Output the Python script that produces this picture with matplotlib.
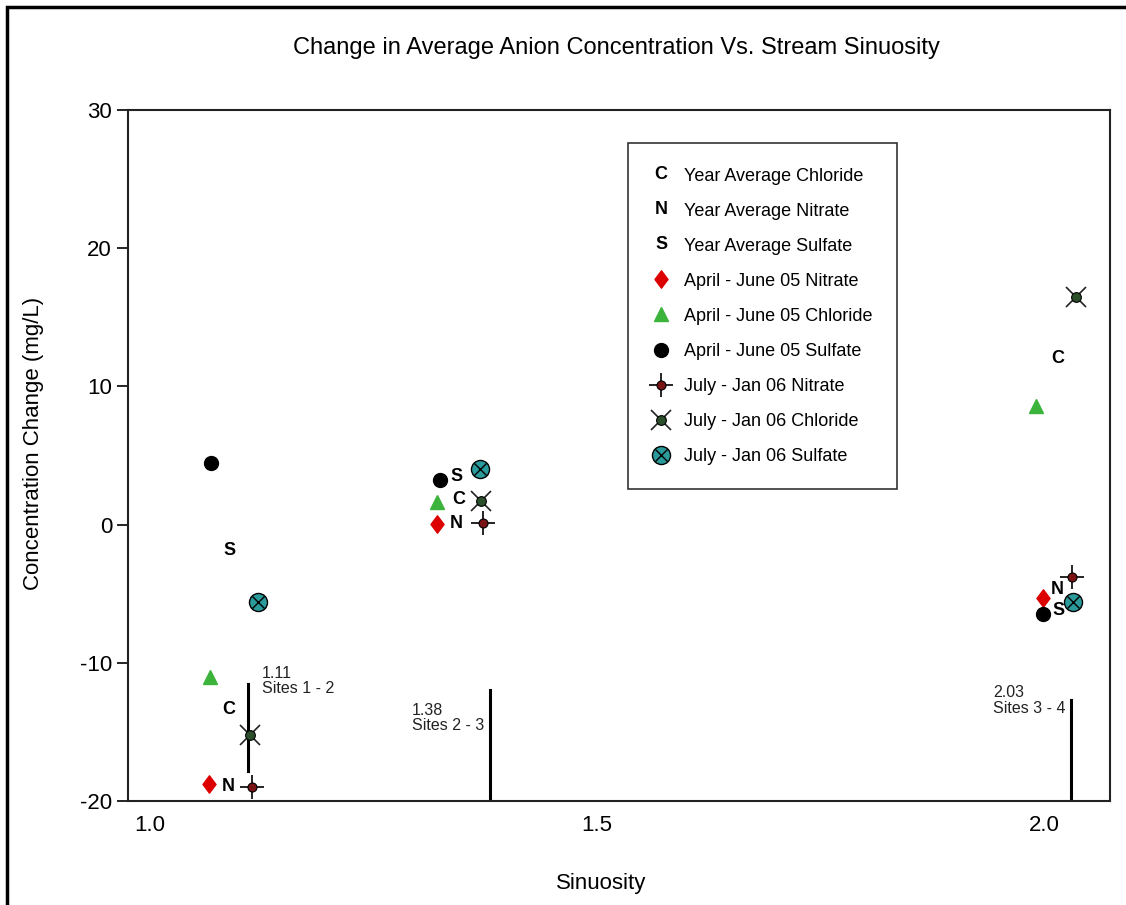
import matplotlib
matplotlib.use('Agg')
import matplotlib.pyplot as plt
from matplotlib.lines import Line2D
from matplotlib.patches import Rectangle
from matplotlib.path import Path
from matplotlib.text import Text
from matplotlib.legend_handler import HandlerBase

plt.rcParams['font.family'] = ['Liberation Sans', 'DejaVu Sans']
plt.rcParams['axes.unicode_minus'] = False

# sinuosity of each reach and the site pair it spans
site_sinuosity = [1.11, 1.38, 2.03]
site_names = ['Sites 1 - 2', 'Sites 2 - 3', 'Sites 3 - 4']
site_line_top = [-11.5, -12.0, -12.7]
site_line_bottom = [-17.8, -20.0, -20.0]
site_text_top = [-10.2, -12.9, -11.6]

# year averages (plotted as letters)
yr_cl_x = [1.088, 1.345, 2.015]
yr_cl_y = [-13.4, 1.8, 12.0]
yr_no3_x = [1.088, 1.343, 2.015]
yr_no3_y = [-18.95, 0.05, -4.7]
yr_so4_x = [1.0895, 1.343, 2.016]
yr_so4_y = [-1.85, 3.45, -6.2]

# April - June 05
aj_no3_x = [1.066, 1.321, 1.999]
aj_no3_y = [-18.8, 0.05, -5.3]
aj_cl_x = [1.067, 1.321, 1.991]
aj_cl_y = [-11.0, 1.6, 8.6]
aj_so4_x = [1.068, 1.324, 1.999]
aj_so4_y = [4.45, 3.2, -6.5]

# July - Jan 06
jj_no3_x = [1.114, 1.372, 2.031]
jj_no3_y = [-19.0, 0.1, -3.8]
jj_cl_x = [1.112, 1.370, 2.036]
jj_cl_y = [-15.2, 1.7, 16.5]
jj_so4_x = [1.121, 1.369, 2.032]
jj_so4_y = [-5.6, 4.0, -5.6]

diamond = Path([(0, 1), (0.75, 0), (0, -1), (-0.75, 0), (0, 1)],
               [Path.MOVETO, Path.LINETO, Path.LINETO, Path.LINETO, Path.CLOSEPOLY])


class LetterHandler(HandlerBase):
    # draws a bold letter as the legend key
    def create_artists(self, legend, orig_handle, xdescent, ydescent, width, height,
                       fontsize, trans):
        t = Text(width / 2 - xdescent, height / 2 - ydescent, orig_handle.get_text(),
                 ha='center', va='center', fontsize=13, fontweight='bold',
                 color='black', transform=trans)
        return [t]


fig = plt.figure(figsize=(11.26, 9.05), dpi=100)
ax = fig.add_axes([128/1126, 104/905, 982/1126, 691/905])

# outer frame
fig.add_artist(Rectangle((7/1126, -0.05), 1.2, 1.05 - 7/905, transform=fig.transFigure,
                         fill=False, ec='black', lw=2.5))

# site lines and labels
for xs, top, bot in zip(site_sinuosity, site_line_top, site_line_bottom):
    ax.plot([xs, xs], [top, bot], color='black', lw=2.2, zorder=1)
site_offsets = [(10, 'left'), (-4, 'right'), (-4, 'right')]
for xs, ty, name, (dx, ha) in zip(site_sinuosity, site_text_top, site_names, site_offsets):
    ax.annotate(f'{xs:.2f}\n{name}', xy=(xs, ty), xytext=(dx, 0), textcoords='offset points',
                fontsize=11.5, color='#222222', va='top', ha=ha,
                multialignment='left', linespacing=1.05)

# year average letters
for xs, ys, letter in [(yr_cl_x, yr_cl_y, 'C'), (yr_no3_x, yr_no3_y, 'N'),
                       (yr_so4_x, yr_so4_y, 'S')]:
    for xv, yv in zip(xs, ys):
        ax.text(xv, yv, letter, fontsize=13, fontweight='bold', ha='center', va='center',
                zorder=3, bbox=dict(fc='white', ec='none', pad=1))

# April - June 05 markers
ax.plot(aj_no3_x, aj_no3_y, ls='none', marker=diamond, ms=12.5, mfc='#dd0000', mec='#dd0000', zorder=4)
ax.plot(aj_cl_x, aj_cl_y, ls='none', marker='^', ms=10, mfc='#3cb43c', mec='#3cb43c', zorder=4)
ax.plot(aj_so4_x, aj_so4_y, ls='none', marker='o', ms=10, mfc='black', mec='black', zorder=4)

# July - Jan 06 markers
ax.plot(jj_no3_x, jj_no3_y, ls='none', marker='+', ms=17, mew=1.2, color='black', zorder=4)
ax.plot(jj_no3_x, jj_no3_y, ls='none', marker='o', ms=6.5, mfc='#7a1414', mec='black', mew=0.8, zorder=5)
ax.plot(jj_cl_x, jj_cl_y, ls='none', marker='x', ms=14, mew=1.2, color='#222222', zorder=4)
ax.plot(jj_cl_x, jj_cl_y, ls='none', marker='o', ms=7, mfc='#2b4f2b', mec='black', mew=0.8, zorder=5)
ax.plot(jj_so4_x, jj_so4_y, ls='none', marker='o', ms=13, mfc='#2a9a9a', mec='black', mew=1.0, zorder=4)
ax.plot(jj_so4_x, jj_so4_y, ls='none', marker='x', ms=8, mew=1.0, color='black', zorder=5)

# legend
h_c, h_n, h_s = Text(text='C'), Text(text='N'), Text(text='S')
h_aj_no3 = Line2D([], [], ls='none', marker=diamond, ms=12.5, mfc='#dd0000', mec='#dd0000')
h_aj_cl = Line2D([], [], ls='none', marker='^', ms=10, mfc='#3cb43c', mec='#3cb43c')
h_aj_so4 = Line2D([], [], ls='none', marker='o', ms=10, mfc='black', mec='black')
h_jj_no3 = (Line2D([], [], ls='none', marker='+', ms=17, mew=1.2, color='black'),
            Line2D([], [], ls='none', marker='o', ms=6.5, mfc='#7a1414', mec='black', mew=0.8))
h_jj_cl = (Line2D([], [], ls='none', marker='x', ms=14, mew=1.2, color='#222222'),
           Line2D([], [], ls='none', marker='o', ms=7, mfc='#2b4f2b', mec='black', mew=0.8))
h_jj_so4 = (Line2D([], [], ls='none', marker='o', ms=13, mfc='#2a9a9a', mec='black', mew=1.0),
            Line2D([], [], ls='none', marker='x', ms=8, mew=1.0, color='black'))
handles = [h_c, h_n, h_s, h_aj_no3, h_aj_cl, h_aj_so4, h_jj_no3, h_jj_cl, h_jj_so4]
labels = ['Year Average Chloride', 'Year Average Nitrate', 'Year Average Sulfate',
          'April - June 05 Nitrate', 'April - June 05 Chloride', 'April - June 05 Sulfate',
          'July - Jan 06 Nitrate', 'July - Jan 06 Chloride', 'July - Jan 06 Sulfate']
leg = ax.legend(handles, labels, loc='upper left', bbox_to_anchor=(0.509, 0.952),
                borderaxespad=0, fontsize=13, labelspacing=1.0, borderpad=1.35,
                handlelength=1.0, handletextpad=0.75, fancybox=False, frameon=True,
                handler_map={Text: LetterHandler()})
leg.get_frame().set_edgecolor('black')
leg.get_frame().set_linewidth(1.2)

ax.set_xlim(0.9754, 2.0738)
ax.set_ylim(-20, 30)
ax.set_xticks([1.0, 1.5, 2.0])
ax.set_xticklabels(['1.0', '1.5', '2.0'])
ax.set_yticks([-20, -10, 0, 10, 20, 30])
ax.tick_params(axis='x', length=0, pad=10, labelsize=16)
ax.tick_params(axis='y', length=8, width=1.2, pad=3.5, labelsize=16)
for sp in ax.spines.values():
    sp.set_linewidth(1.5)
    sp.set_color('#222222')

ax.set_xlabel('Sinuosity', fontsize=16)
ax.xaxis.set_label_coords(0.4817, -0.104)
ax.set_ylabel('Concentration Change (mg/L)', fontsize=16)
ax.yaxis.set_label_coords(-0.0855, 0.517)
fig.text(616/1126, 1 - 48/905, 'Change in Average Anion Concentration Vs. Stream Sinuosity',
         ha='center', va='center', fontsize=17)

plt.savefig('out.png', dpi=100)
